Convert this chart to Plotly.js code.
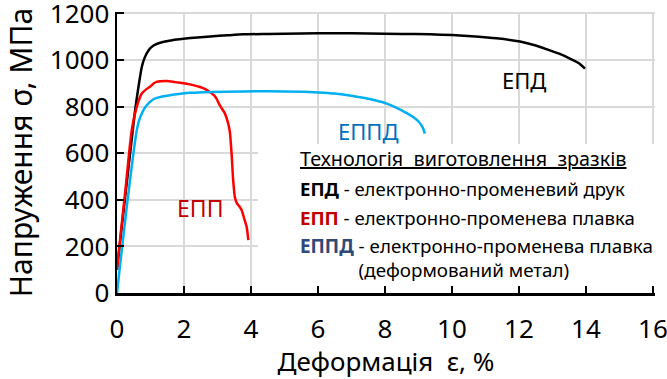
<!DOCTYPE html>
<html><head><meta charset="utf-8">
<script src="https://cdn.plot.ly/plotly-3.0.1.min.js"></script>
<style>html,body{margin:0;padding:0;background:#fff}#plot{width:667px;height:379px}</style>
</head><body><div id="plot"></div>
<script>
// ЕПД — electron-beam printing
const epdX = [0, 0.1, 0.25, 0.4, 0.54, 0.64, 0.74, 0.82, 0.95, 1.08, 1.22, 1.4, 1.65, 1.98, 2.4, 2.78, 3.3, 3.77, 4.5, 5.5, 6.5, 7.5, 8.5, 9.34, 10.0, 10.7, 11.33, 12.03, 12.5, 12.83, 13.2, 13.52, 13.8, 13.97];
const epdY = [100, 230, 420, 610, 784, 884, 970, 1008, 1043, 1061, 1071, 1078, 1085, 1091, 1097, 1101, 1106, 1110, 1112, 1114, 1115, 1114, 1112, 1110, 1107, 1101, 1093, 1079, 1062, 1046, 1027, 1006, 985, 963];
// ЕПП — electron-beam melting
const eppX = [0, 0.1, 0.25, 0.44, 0.59, 0.74, 0.88, 0.99, 1.1, 1.18, 1.3, 1.48, 1.7, 1.88, 2.08, 2.3, 2.48, 2.65, 2.78, 2.9, 2.97, 3.07, 3.22, 3.32, 3.37, 3.42, 3.47, 3.52, 3.58, 3.65, 3.72, 3.8, 3.87, 3.92];
const eppY = [100, 240, 440, 699, 799, 856, 875, 886, 900, 906, 909, 910, 906, 902, 898, 891, 884, 874, 862, 848, 834, 805, 771, 727, 690, 599, 480, 410, 385, 372, 356, 318, 284, 227];
// ЕППД — electron-beam melting (deformed metal)
const eppdX = [0, 0.1, 0.3, 0.5, 0.59, 0.67, 0.74, 0.82, 0.89, 1.0, 1.13, 1.35, 1.58, 1.9, 2.18, 2.78, 3.77, 4.5, 5.5, 6.0, 6.5, 7.0, 7.35, 7.7, 8.05, 8.35, 8.65, 8.85, 9.0, 9.12, 9.19];
const eppdY = [0, 130, 380, 610, 699, 745, 770, 792, 806, 822, 834, 843, 849, 855, 859, 863, 865, 866, 864, 861, 856, 847, 838, 827, 813, 795, 772, 754, 736, 712, 684];

const xTicks = [0, 2, 4, 6, 8, 10, 12, 14, 16];
const yTicks = [0, 200, 400, 600, 800, 1000, 1200];

const F = 'Noto Sans, sans-serif';
const traces = [
  {x: epdX, y: epdY, mode: 'lines', line: {color: '#000000', width: 2.5, shape: 'spline', smoothing: 0.6}},
  {x: eppX, y: eppY, mode: 'lines', line: {color: '#FF0000', width: 2.5, shape: 'spline', smoothing: 0.6}},
  {x: eppdX, y: eppdY, mode: 'lines', line: {color: '#00B0F0', width: 2.5, shape: 'spline', smoothing: 0.6}}
];

const NB = '\u00A0';
const layout = {
  width: 667, height: 379,
  margin: {l: 117, r: 12, t: 11.6, b: 86},
  paper_bgcolor: '#fff', plot_bgcolor: '#fff',
  showlegend: false,
  font: {family: F, color: '#000'},
  xaxis: {
    range: [0, 16.06], tickvals: xTicks, ticktext: xTicks.map(String),
    showgrid: true, gridcolor: '#D9D9D9', gridwidth: 2,
    showline: true, linecolor: '#000', linewidth: 2.5,
    ticks: 'inside', ticklen: 7, tickwidth: 2, tickcolor: '#000',
    tickfont: {size: 26, family: F, color: '#000'},
    ticklabelstandoff: 11, ticklabeloverflow: 'allow',
    zeroline: false,
    title: {text: 'Деформація' + NB + NB + 'ε,' + NB + '%', font: {size: 26, family: F, color: '#000'}, standoff: 6}
  },
  yaxis: {
    range: [0, 1206], tickvals: yTicks, ticktext: yTicks.map(String),
    showgrid: true, gridcolor: '#D9D9D9', gridwidth: 2,
    showline: true, linecolor: '#000', linewidth: 2.5,
    ticks: 'inside', ticklen: 7, tickwidth: 2, tickcolor: '#000',
    tickfont: {size: 26, family: F, color: '#000'},
    ticklabeloverflow: 'allow',
    zeroline: false,
    title: {text: 'Напруження' + NB + 'σ,' + NB + 'МПа', font: {size: 30, family: F, color: '#000'}, standoff: 10}
  },
  shapes: [
    {type: 'rect', xref: 'x', yref: 'y', x0: 4.21, x1: 16.5, y0: 0, y1: 639, fillcolor: '#fff', line: {width: 0}, layer: 'between'}
  ],
  annotations: [
    {x: 12.15, y: 913, text: 'ЕПД', showarrow: false, font: {size: 22, color: '#000', family: F}},
    {x: 7.52, y: 694, text: 'ЕППД', showarrow: false, font: {size: 22, color: '#0070C0', family: F}},
    {x: 2.48, y: 364, text: 'ЕПП', showarrow: false, font: {size: 23, color: '#C00000', family: F}},
    {x: 5.40, y: 579, xanchor: 'left', text: '<u>Технологія' + NB + NB + 'виготовлення' + NB + NB + 'зразків</u>', showarrow: false, font: {size: 19.8, color: '#000', family: F}},
    {x: 5.40, y: 450, xanchor: 'left', text: '<b>ЕПД</b> - електронно-променевий друк', showarrow: false, font: {size: 18.5, color: '#000', family: F}},
    {x: 5.40, y: 326, xanchor: 'left', text: '<b><span style="color:#C00000">ЕПП</span></b> - електронно-променева плавка', showarrow: false, font: {size: 18.6, color: '#000', family: F}},
    {x: 5.40, y: 150, xanchor: 'left', yanchor: 'middle', align: 'left',
     text: '<b><span style="color:#2E4A7A">ЕППД</span></b> - електронно-променева плавка<br>' + NB.repeat(12) + '(деформований метал)',
     showarrow: false, font: {size: 18.8, color: '#000', family: F}}
  ]
};
Plotly.newPlot('plot', traces, layout, {displayModeBar: false, staticPlot: true});
</script></body></html>
